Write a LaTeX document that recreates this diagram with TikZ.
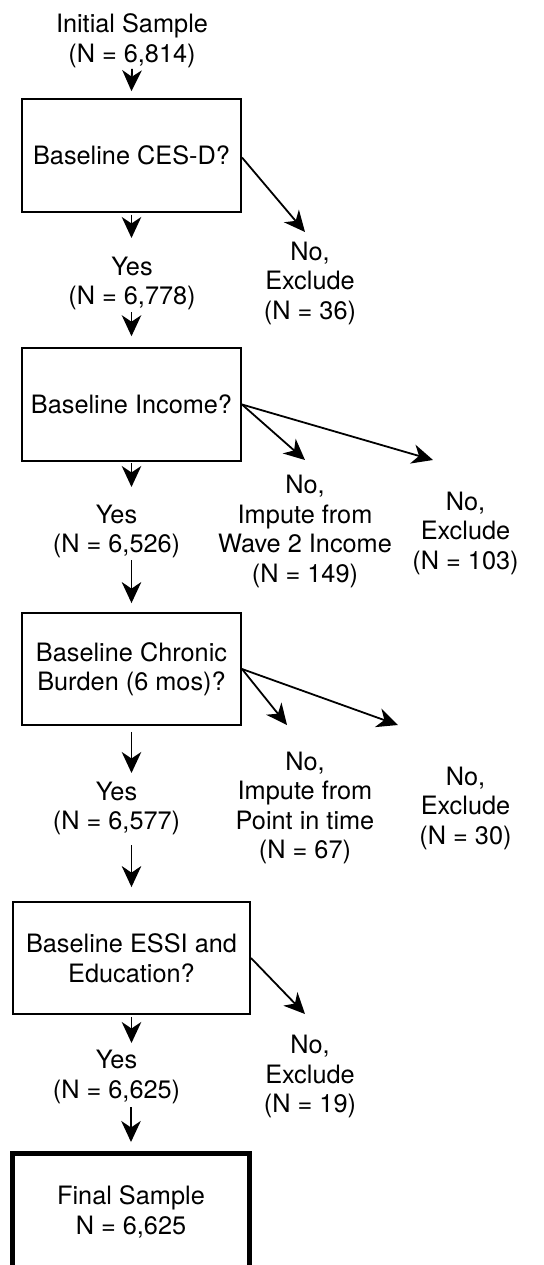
\documentclass[tikz,border=0pt]{standalone}
\usepackage{fontspec}
\setmainfont{TeX Gyre Heros}
\usetikzlibrary{arrows.meta}
\tikzset{headtip/.tip={Stealth[length=21pt 0 0,width=19.5pt 0,inset=6.5pt 0]}}
\begin{document}
\begin{tikzpicture}[x=1pt,y=1pt,
  every node/.style={font=\fontsize{25.3}{29.5}\selectfont},
  box/.style={draw, line width=1.8pt, minimum width=219.2pt, minimum height=112.7pt, inner sep=0pt, align=center},
  lbl/.style={anchor=north, inner sep=0pt, align=center},
  arr/.style={line width=1.8pt, -headtip}]
\useasboundingbox (0,0) rectangle (543,-1265);

% boxes
\node[box] (b1) at (131.5,-155.5) {Baseline CES-D?};
\node[box] (b2) at (131.5,-404.5) {Baseline Income?};
\node[box, minimum height=112pt] (b3) at (131.5,-669) {Baseline Chronic\\Burden (6 mos)?};
\node[box, minimum width=237.2pt, minimum height=112pt] (b4) at (131.5,-958) {Baseline ESSI and\\Education?};
\node[box, line width=5pt, minimum width=237pt, minimum height=117pt] (fin) at (131,-1212) {Final Sample\\N = 6,625};

% labels
\node[lbl] (init) at (132,-13.7) {Initial Sample\\(N = 6,814)};
\node[lbl] (yes1) at (132,-256.7) {Yes\\(N = 6,778)};
\node[lbl] (no1) at (310,-241.7) {No,\\Exclude\\(N = 36)};
\node[lbl] (yes2) at (116.5,-504.7) {Yes\\(N = 6,526)};
\node[lbl] (imp2) at (305,-475) {No,\\Impute from\\Wave 2 Income\\(N = 149)};
\node[lbl] (exc2) at (465.5,-491.7) {No,\\Exclude\\(N = 103)};
\node[lbl] (yes3) at (116.5,-781.7) {Yes\\(N = 6,577)};
\node[lbl] (imp3) at (305,-751.7) {No,\\Impute from\\Point in time\\(N = 67)};
\node[lbl] (exc3) at (465.5,-766.7) {No,\\Exclude\\(N = 30)};
\node[lbl] (yes4) at (116.5,-1050) {Yes\\(N = 6,625)};
\node[lbl] (no4) at (310,-1035) {No,\\Exclude\\(N = 19)};

% connectors
\draw[arr] ([yshift=-1pt]init.south) -- ([yshift=7pt]b1.north);
\draw[arr] ([yshift=-2pt]b1.south) -- ([yshift=18.7pt]yes1.north -| b1.south);
\draw[arr] ([yshift=-1.6pt]yes1.south -| b1.south) -- ([yshift=11pt]b2.north);
\draw[arr] ([yshift=-2pt]b1.east) -- ([xshift=-5pt,yshift=9.7pt]no1.north);

\draw[arr] ([yshift=-1pt]b2.south) -- ([yshift=17.7pt]yes2.north -| b2.south);
\draw[arr] (b2.east) -- ([yshift=15pt]imp2.north);
\draw[arr] (b2.east) -- ([xshift=-32.5pt,yshift=31.7pt]exc2.north);
\draw[arr] ([yshift=-1.6pt]yes2.south -| b3.north) -- ([yshift=9pt]b3.north);

\draw[arr] ([yshift=-6pt]b3.south) -- ([yshift=8.7pt]yes3.north -| b3.south);
\draw[arr] (b3.east) -- ([xshift=-18pt,yshift=26.7pt]imp3.north);
\draw[arr] (b3.east) -- ([xshift=-67.5pt,yshift=41.7pt]exc3.north);
\draw[arr] ([yshift=-9.6pt]yes3.south -| b4.north) -- ([yshift=14pt]b4.north);

\draw[arr] ([yshift=-2pt]b4.south) -- ([yshift=7pt]yes4.north -| b4.south);
\draw[arr] (b4.east) -- ([xshift=-5pt,yshift=21pt]no4.north);
\draw[arr] ([yshift=-3.3pt]yes4.south -| fin.north) -- ([yshift=9pt]fin.north);
\end{tikzpicture}
\end{document}
